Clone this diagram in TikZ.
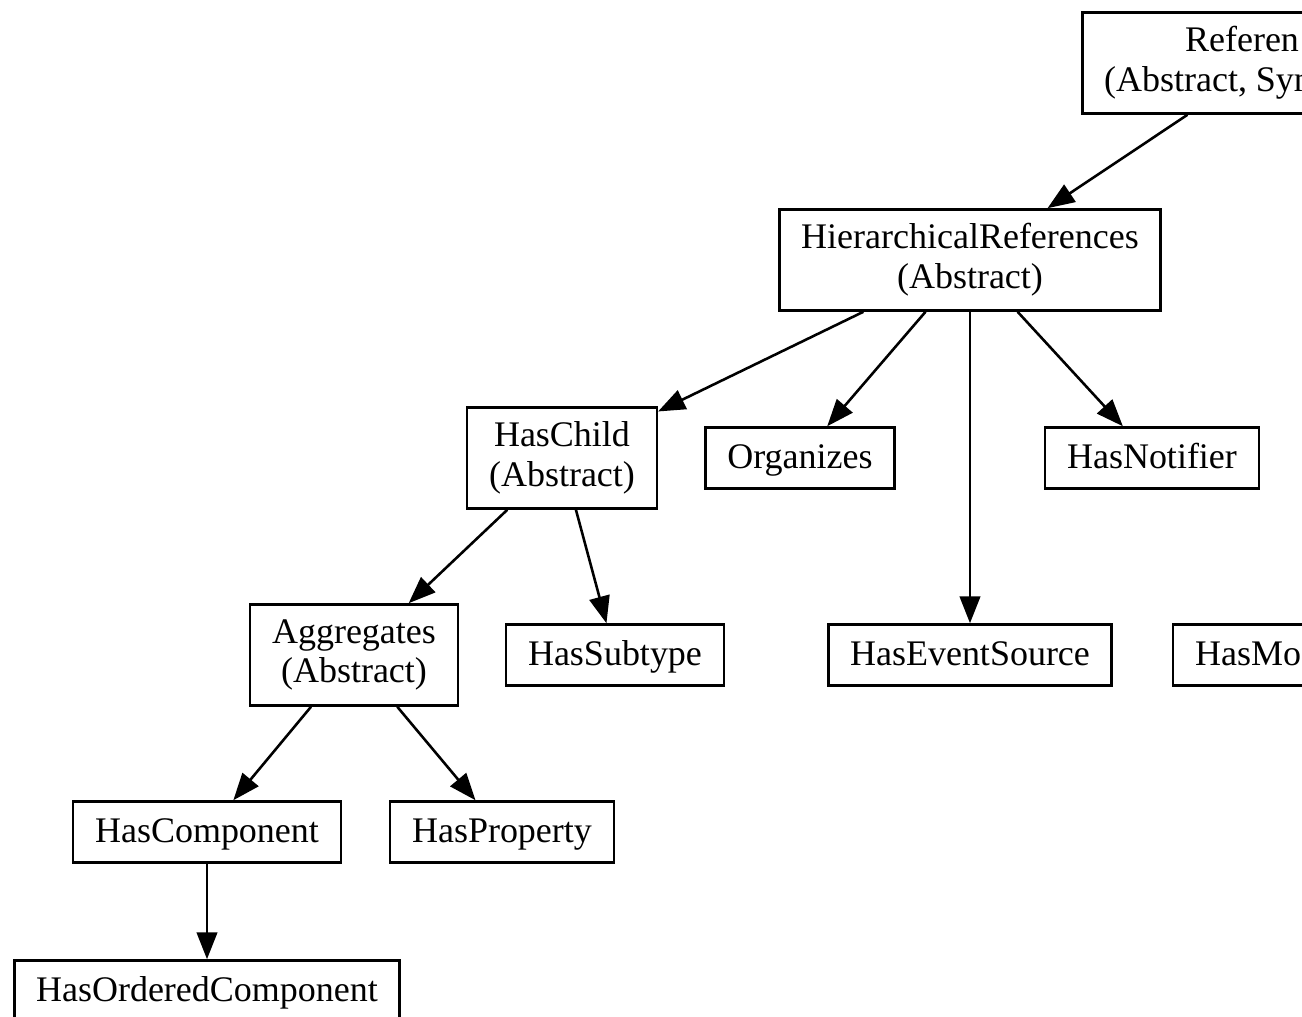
\documentclass[tikz,border=0pt]{standalone}
\usepackage{fontspec}
\setmainfont{Liberation Serif}
\usetikzlibrary{arrows.meta}

\begin{document}
\begin{tikzpicture}[x=0.389pt, y=-0.389pt,
  box/.style={draw, line width=1pt, inner xsep=8.5pt, inner ysep=2pt,
    minimum height=23.7pt, align=center, font=\fontsize{14}{15.5}\selectfont},
  sbox/.style={box, text height=10pt, text depth=2.2pt},
  abox/.style={box, minimum height=39.3pt},
  arr/.style={-{Triangle[length=10.5pt, width=8pt]}, line width=1pt}]
  \useasboundingbox (0,0) rectangle (1302,1017);
  \clip (0,0) rectangle (1302,1017);

  % Nodes
  % Top level
  \node[abox] (ref) at (1265,63) {Referen\phantom{ces}\\(Abstract, Sym\phantom{metric)}};
  \node[abox] (hier) at (970,260) {HierarchicalReferences\\(Abstract)};

  % Children of HierarchicalReferences
  \node[abox] (haschild) at (562,458) {HasChild\\(Abstract)};
  \node[sbox] (org) at (800,458) {Organizes};
  \node[sbox] (notif) at (1152,458) {HasNotifier};

  \node[abox] (aggr) at (354,655) {Aggregates\\(Abstract)};
  \node[sbox] (subtype) at (615,655) {HasSubtype};
  \node[sbox] (evsrc) at (970,655) {HasEventSource};
  \node[sbox] (hasmo) at (1332,655) {HasMo\phantom{dellingRule}};

  % Aggregates
  \node[sbox] (comp) at (207,832) {HasComponent};
  \node[sbox] (prop) at (502,832) {HasProperty};
  \node[sbox] (ordcomp) at (207,991) {HasOrderedComponent};

  % Arrows
  \draw[arr] (ref) -- (hier);

  \draw[arr] (hier) -- (haschild);
  \draw[arr] (hier) -- (org);
  \draw[arr] (hier) -- (evsrc);
  \draw[arr] (hier) -- (notif);

  \draw[arr] (haschild) -- (aggr);
  \draw[arr] (haschild) -- (subtype);

  \draw[arr] (aggr) -- (comp);
  \draw[arr] (aggr) -- (prop);

  \draw[arr] (comp) -- (ordcomp);

\end{tikzpicture}
\end{document}
